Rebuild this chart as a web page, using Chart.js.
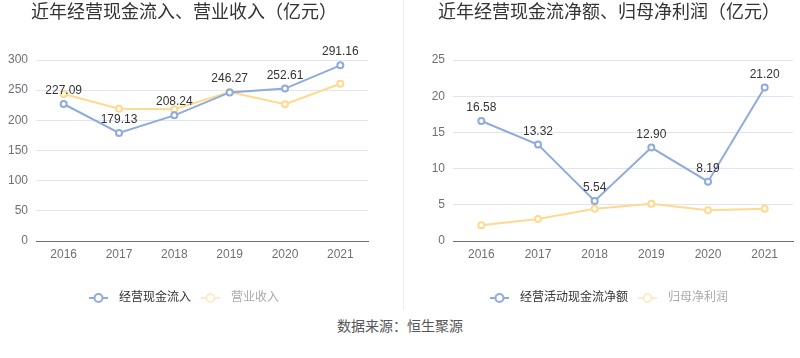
<!DOCTYPE html>
<html>
<head>
<meta charset="utf-8">
<script src="https://cdn.jsdelivr.net/npm/chart.js@4/dist/chart.umd.min.js"></script>
<style>
  html, body { margin: 0; padding: 0; background: #fff; }
  #wrap { position: relative; width: 800px; height: 358px; overflow: hidden; background: #fff; }
  .box { position: absolute; top: 0; width: 400px; height: 314px; }
  #sep { position: absolute; left: 403px; top: 0; width: 1px; height: 310px; background: #eeeeee; }
  #src { position: absolute; left: 0; width: 800px; top: 315px; line-height: 20px; text-align: center;
         font-family: "Noto Sans CJK SC", sans-serif; font-size: 14px; color: #555; }
</style>
</head>
<body>
<div id="wrap">
  <div class="box" style="left:0"><canvas id="c1" width="400" height="314"></canvas></div>
  <div class="box" style="left:400px"><canvas id="c2" width="400" height="314"></canvas></div>
  <div id="sep"></div>
  <div id="src">数据来源：恒生聚源</div>
</div>
<script>
// ---- data ----
const years = ['2016', '2017', '2018', '2019', '2020', '2021'];
const cashInflow = [227.09, 179.13, 208.24, 246.27, 252.61, 291.16];
const revenue = [243.5, 219.3, 218.3, 247.0, 226.8, 260.7];
const netCashFlow = [16.58, 13.32, 5.54, 12.90, 8.19, 21.20];
const netProfit = [2.17, 3.04, 4.46, 5.15, 4.24, 4.46];
const leftTitle = '近年经营现金流入、营业收入（亿元）';
const rightTitle = '近年经营现金流净额、归母净利润（亿元）';
const leftNames = ['经营现金流入', '营业收入'];
const rightNames = ['经营活动现金流净额', '归母净利润'];

const BLUE = '#8FAADC';
const ORANGE = '#FFD98E';
const FADED_ORANGE = '#FFEBCB';
const FONT = '"Liberation Sans", "Noto Sans CJK SC", sans-serif';
Chart.defaults.font.family = FONT;
Chart.defaults.animation = false;

function legendIcon(color) {
  const c = document.createElement('canvas');
  c.width = 24; c.height = 12;
  const g = c.getContext('2d');
  g.strokeStyle = color; g.lineWidth = 2;
  g.beginPath(); g.moveTo(0, 6); g.lineTo(19, 6); g.stroke();
  g.beginPath(); g.arc(9.5, 6, 4, 0, Math.PI * 2);
  g.fillStyle = '#fff'; g.fill(); g.stroke();
  return c;
}

const labelPlugin = {
  id: 'valueLabels',
  afterDatasetsDraw(chart) {
    const ctx = chart.ctx;
    const meta = chart.getDatasetMeta(0);
    const data = chart.data.datasets[0].data;
    ctx.save();
    ctx.font = '12px ' + FONT;
    ctx.fillStyle = '#333';
    ctx.textAlign = 'center';
    ctx.textBaseline = 'alphabetic';
    meta.data.forEach((pt, i) => {
      ctx.fillText(data[i].toFixed(2), pt.x, pt.y - 10);
    });
    ctx.restore();
  }
};

function makeChart(id, title, names, s1, s2, yMax, yStep, pad, yWidth) {
  const icons = [legendIcon(BLUE), legendIcon(FADED_ORANGE)];
  const fontColors = ['#333', '#aaa'];
  return new Chart(document.getElementById(id), {
    type: 'line',
    data: {
      labels: years,
      datasets: [
        { label: names[0], data: s1, borderColor: BLUE, backgroundColor: '#fff',
          borderWidth: 2, pointRadius: 3, pointBorderWidth: 2, pointBackgroundColor: '#fff',
          pointBorderColor: BLUE, tension: 0, clip: false },
        { label: names[1], data: s2, borderColor: ORANGE, backgroundColor: '#fff',
          borderWidth: 2, pointRadius: 3, pointBorderWidth: 2, pointBackgroundColor: '#fff',
          pointBorderColor: ORANGE, tension: 0, clip: false }
      ]
    },
    options: {
      responsive: false,
      layout: { padding: { left: pad[0], right: pad[1], top: 0, bottom: 0 } },
      plugins: {
        title: { display: true, text: title, color: '#333',
                 font: { size: 18, weight: 'normal', family: FONT },
                 padding: { top: 2, bottom: 36.4 } },
        legend: {
          position: 'bottom',
          labels: {
            usePointStyle: true, pointStyleWidth: 24, padding: 10,
            font: { size: 12, family: FONT },
            generateLabels: (chart) => chart.data.datasets.map((ds, i) => ({
              text: ds.label, pointStyle: icons[i], fontColor: fontColors[i],
              strokeStyle: 'rgba(0,0,0,0)', fillStyle: 'rgba(0,0,0,0)', lineWidth: 0,
              hidden: false, datasetIndex: i
            }))
          }
        },
        tooltip: { enabled: false }
      },
      scales: {
        x: {
          offset: true,
          grid: { display: false, drawTicks: false },
          border: { display: true, color: '#6E7079', width: 1 },
          ticks: { color: '#6E7079', font: { size: 12 }, padding: 6, maxRotation: 0 },
          afterFit: (s) => { s.height = 41; }
        },
        y: {
          min: 0, max: yMax,
          grid: { color: '#E0E6F1', drawTicks: false },
          border: { display: false },
          ticks: { stepSize: yStep, color: '#6E7079', font: { size: 12 }, padding: 8 },
          afterFit: (s) => { s.width = yWidth; }
        }
      }
    },
    plugins: [labelPlugin]
  });
}

makeChart('c1', leftTitle, leftNames, cashInflow, revenue, 300, 50, [0, 32], 36);
makeChart('c2', rightTitle, rightNames, netCashFlow, netProfit, 25, 5, [25, 7], 28);
</script>
</body>
</html>
